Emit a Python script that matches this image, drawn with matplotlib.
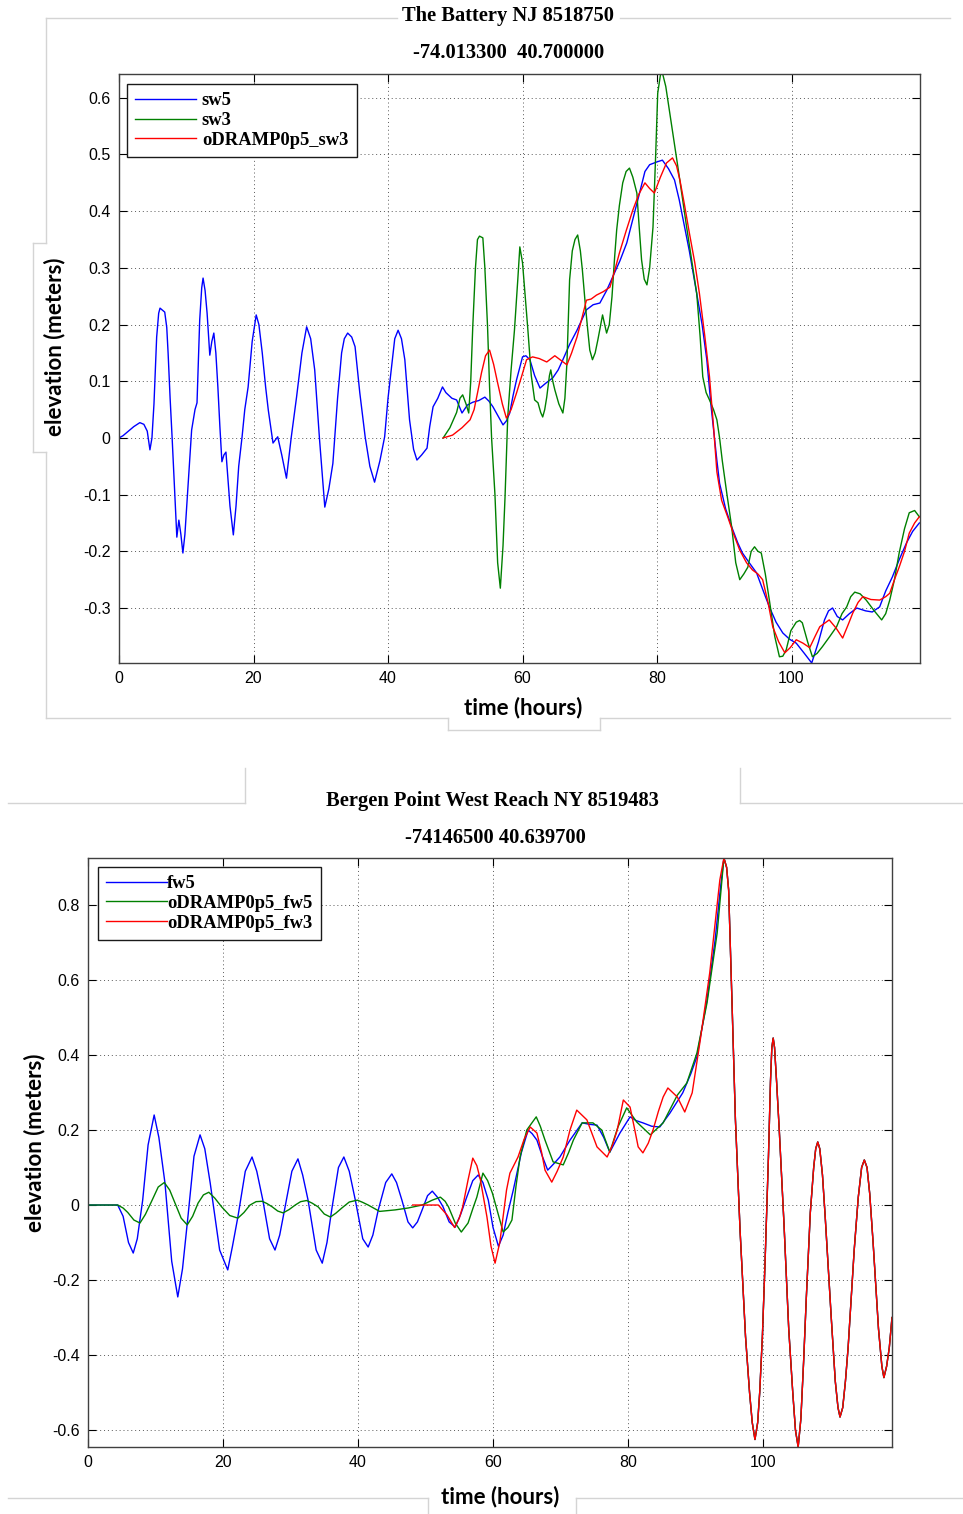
import matplotlib
matplotlib.use('Agg')
import matplotlib.pyplot as plt
from matplotlib.lines import Line2D

# ---- data (time in hours, elevation in meters) ----
# The Battery NJ 8518750
sw5_t = [0, 0.6, 1.2, 2.2, 3.1, 3.7, 4.2, 4.6, 4.9, 5.2, 5.6, 5.9, 6.1, 6.8, 7.1, 7.3,
         7.6, 7.9, 8.3, 8.6, 8.9, 9.2, 9.5, 9.8, 10.1, 10.5, 10.8, 11.3, 11.6, 12.0,
         12.3, 12.5, 12.8, 13.1, 13.5, 13.8, 14.1, 14.4, 14.7, 15.0, 15.3, 15.6, 15.9,
         16.5, 17.0, 17.4, 17.8, 18.3, 18.7, 19.2, 19.8, 20.4, 20.8, 21.3, 21.8, 22.2,
         22.9, 23.6, 24.2, 24.9, 25.6, 26.4, 27.2, 27.9, 28.5, 29.1, 29.8, 30.6, 31.2,
         31.8, 32.5, 33.1, 33.5, 34.0, 34.6, 35.1, 35.8, 36.6, 37.3, 38.0, 38.8, 39.5,
         40.0, 40.6, 41.0, 41.5, 42.0, 42.5, 43.2, 43.8, 44.3, 45.0, 45.8, 46.2, 46.7,
         47.4, 48.1, 48.6, 49.5, 50.2, 51.0, 51.8, 52.6, 53.5, 54.4, 55.0, 55.6, 56.4,
         57.1, 57.6, 58.1, 58.6, 59.1, 60.0, 60.5, 61.1, 61.8, 62.6, 63.5, 64.5, 65.3,
         66.0, 67.0, 68.1, 69.5, 70.5, 71.5, 72.5, 73.4, 74.5, 75.5, 76.5, 77.4, 78.2,
         78.9, 80.0, 80.8, 81.7, 82.6, 83.3, 83.8, 84.8, 85.9, 86.7, 87.4, 88.0, 88.9,
         89.3, 90.2, 91.1, 92.0, 92.7, 93.7, 94.8, 95.8, 96.7, 97.7, 98.7, 99.7, 100.7,
         101.9, 103.0, 104.0, 104.9, 105.5, 106.1, 106.8, 107.6, 108.6, 109.7, 111.0,
         112.0, 113.1, 114.0, 115.0, 116.0, 117.1, 118.0, 119.0]
sw5_y = [0, 0.004, 0.01, 0.02, 0.027, 0.024, 0.012, -0.021, 0.0, 0.06, 0.178, 0.22,
         0.229, 0.222, 0.195, 0.15, 0.07, 0.0, -0.1, -0.175, -0.145, -0.17, -0.203, -0.17,
         -0.115, -0.04, 0.014, 0.05, 0.062, 0.208, 0.265, 0.282, 0.26, 0.22, 0.146, 0.17,
         0.185, 0.15, 0.09, 0.02, -0.042, -0.03, -0.025, -0.12, -0.171, -0.12, -0.05,
         0.002, 0.05, 0.09, 0.17, 0.217, 0.2, 0.15, 0.09, 0.049, -0.009, 0.002, -0.03,
         -0.071, 0.0, 0.072, 0.15, 0.196, 0.175, 0.12, 0.0, -0.122, -0.09, -0.045, 0.07,
         0.15, 0.175, 0.185, 0.178, 0.161, 0.08, 0.002, -0.05, -0.078, -0.04, 0.002, 0.07,
         0.132, 0.175, 0.19, 0.175, 0.138, 0.032, -0.02, -0.039, -0.03, -0.018, 0.02,
         0.055, 0.07, 0.09, 0.08, 0.07, 0.067, 0.044, 0.058, 0.063, 0.066, 0.072, 0.065,
         0.055, 0.038, 0.023, 0.03, 0.044, 0.075, 0.102, 0.143, 0.145, 0.138, 0.11, 0.088,
         0.097, 0.106, 0.12, 0.138, 0.165, 0.19, 0.226, 0.235, 0.238, 0.26, 0.284, 0.313,
         0.344, 0.39, 0.432, 0.47, 0.482, 0.487, 0.49, 0.475, 0.455, 0.42, 0.39, 0.33,
         0.255, 0.2, 0.138, 0.06, -0.04, -0.08, -0.125, -0.157, -0.185, -0.203, -0.22,
         -0.238, -0.27, -0.298, -0.325, -0.344, -0.355, -0.362, -0.38, -0.397, -0.36,
         -0.321, -0.305, -0.3, -0.315, -0.321, -0.31, -0.3, -0.305, -0.307, -0.298, -0.27,
         -0.245, -0.215, -0.185, -0.165, -0.15]

sw3_t = [48.2, 49.2, 50.2, 50.7, 51.1, 51.6, 52.0, 52.3, 52.6, 53.0, 53.3, 53.6, 54.1,
         54.4, 54.8, 55.1, 55.4, 55.9, 56.3, 56.7, 57.1, 57.4, 57.8, 58.3, 58.8, 59.3,
         59.6, 60.0, 60.4, 60.8, 61.3, 61.8, 62.3, 62.7, 63.0, 63.3, 63.6, 64.0, 64.2,
         64.5, 64.8, 65.4, 66.0, 66.3, 66.6, 67.0, 67.4, 67.8, 68.2, 68.6, 68.9, 69.3,
         69.7, 70.0, 70.4, 70.8, 71.2, 71.9, 72.5, 72.9, 73.3, 73.7, 74.0, 74.4, 74.9,
         75.4, 75.9, 76.4, 77.0, 77.3, 77.7, 78.1, 78.5, 78.9, 79.4, 79.8, 80.1, 80.5,
         80.8, 81.3, 81.8, 82.2, 83.1, 84.4, 85.2, 85.9, 86.4, 86.8, 87.3, 87.8, 88.4,
         88.9, 89.3, 89.7, 90.4, 91.1, 91.7, 92.3, 92.9, 93.5, 94.0, 94.5, 95.0, 95.5,
         96.1, 96.7, 97.5, 98.2, 98.7, 99.2, 99.9, 100.7, 101.2, 101.6, 102.4, 103.1,
         103.8, 104.6, 105.7, 106.7, 107.5, 108.2, 108.8, 109.4, 110.2, 111.1, 112.3,
         113.4, 114.0, 114.6, 115.3, 116.0, 116.8, 117.5, 118.3, 119.0]
sw3_y = [0, 0.018, 0.045, 0.07, 0.076, 0.06, 0.044, 0.1, 0.196, 0.3, 0.35, 0.356, 0.353,
         0.3, 0.196, 0.09, 0.0, -0.1, -0.22, -0.265, -0.19, -0.104, 0.037, 0.12, 0.19,
         0.28, 0.337, 0.309, 0.25, 0.19, 0.11, 0.067, 0.062, 0.045, 0.037, 0.05, 0.072,
         0.11, 0.12, 0.1, 0.085, 0.06, 0.044, 0.07, 0.132, 0.279, 0.33, 0.35, 0.358, 0.33,
         0.296, 0.24, 0.19, 0.155, 0.138, 0.15, 0.173, 0.217, 0.185, 0.2, 0.249, 0.32,
         0.367, 0.41, 0.45, 0.47, 0.476, 0.46, 0.432, 0.38, 0.314, 0.28, 0.27, 0.3, 0.372,
         0.5, 0.608, 0.64, 0.644, 0.62, 0.58, 0.549, 0.478, 0.372, 0.31, 0.255, 0.18,
         0.108, 0.08, 0.067, 0.05, 0.032, 0.0, -0.04, -0.1, -0.157, -0.22, -0.25, -0.24,
         -0.228, -0.2, -0.192, -0.2, -0.203, -0.24, -0.286, -0.35, -0.386, -0.385, -0.374,
         -0.34, -0.325, -0.322, -0.326, -0.36, -0.386, -0.38, -0.368, -0.35, -0.333,
         -0.31, -0.298, -0.28, -0.272, -0.275, -0.286, -0.305, -0.321, -0.31, -0.286,
         -0.25, -0.203, -0.16, -0.132, -0.128, -0.139]

ramp_sw3_t = [48.2, 49.6, 51.0, 52.2, 52.8, 53.3, 53.9, 54.5, 55.1, 55.7, 56.3, 57.0,
              57.6, 58.3, 59.1, 59.9, 60.6, 61.5, 62.5, 63.6, 64.8, 65.7, 66.6, 67.3,
              68.1, 68.8, 69.5, 70.2, 71.0, 72.0, 73.0, 73.7, 74.4, 75.4, 76.4, 77.3,
              78.2, 78.9, 79.6, 80.5, 81.4, 82.3, 82.9, 83.4, 84.1, 84.8, 85.6, 86.3,
              87.1, 87.8, 88.4, 88.9, 89.6, 90.5, 91.4, 92.3, 93.3, 94.2, 95.0, 95.7,
              96.5, 97.2, 98.1, 99.0, 99.8, 100.7, 101.7, 102.7, 103.5, 104.2, 105.6,
              106.6, 107.6, 108.4, 109.1, 109.9, 110.6, 111.8, 113.1, 114.0, 114.6,
              115.3, 116.0, 116.8, 117.5, 118.3, 119.0]
ramp_sw3_y = [0, 0.005, 0.018, 0.032, 0.05, 0.079, 0.115, 0.145, 0.155, 0.13, 0.097,
              0.06, 0.035, 0.05, 0.079, 0.11, 0.138, 0.143, 0.14, 0.134, 0.145, 0.137,
              0.129, 0.15, 0.178, 0.21, 0.243, 0.245, 0.252, 0.258, 0.266, 0.295, 0.326,
              0.365, 0.402, 0.43, 0.45, 0.44, 0.432, 0.46, 0.485, 0.494, 0.48, 0.455,
              0.41, 0.362, 0.31, 0.255, 0.18, 0.108, 0.02, -0.06, -0.11, -0.139, -0.17,
              -0.198, -0.22, -0.233, -0.24, -0.25, -0.29, -0.333, -0.36, -0.379, -0.37,
              -0.356, -0.362, -0.37, -0.35, -0.333, -0.321, -0.335, -0.353, -0.33, -0.309,
              -0.29, -0.28, -0.285, -0.286, -0.28, -0.274, -0.25, -0.228, -0.2, -0.168,
              -0.15, -0.139]

# Bergen Point West Reach NY 8519483
# all three runs coincide after the surge peak
tail_t = [94.6, 94.9, 95.4, 95.9, 96.6, 97.4, 98.0, 98.4, 98.8, 99.2, 99.5, 99.9, 100.3,
          100.8, 101.1, 101.3, 101.5, 101.7, 102.0, 102.4, 103.1, 103.8, 104.4, 104.8,
          105.2, 105.6, 106.0, 106.4, 107.0, 107.5, 107.8, 108.1, 108.4, 108.8, 109.2,
          110.1, 110.7, 111.1, 111.4, 111.8, 112.2, 112.6, 113.5, 114.1, 114.6, 115.0,
          115.4, 115.8, 116.3, 117.1, 117.6, 117.9, 118.3, 118.7, 119.1]
tail_y = [0.9, 0.84, 0.54, 0.23, -0.07, -0.35, -0.5, -0.58, -0.625, -0.58, -0.5, -0.35,
          -0.15, 0.13, 0.33, 0.42, 0.445, 0.42, 0.33, 0.2, -0.05, -0.33, -0.5, -0.6,
          -0.645, -0.57, -0.42, -0.25, -0.02, 0.1, 0.15, 0.168, 0.15, 0.08, -0.03, -0.3,
          -0.47, -0.54, -0.565, -0.54, -0.47, -0.38, -0.12, 0.02, 0.1, 0.12, 0.1, 0.03,
          -0.1, -0.33, -0.43, -0.46, -0.43, -0.38, -0.3]

fw5_t = [0, 4.4, 5.2, 6.0, 6.7, 7.3, 8.1, 8.9, 9.8, 10.5, 11.4, 12.4, 13.3, 14.0, 14.8,
         15.7, 16.6, 17.3, 18.1, 19.5, 20.7, 21.4, 22.2, 23.3, 24.3, 25.0, 25.9, 26.9,
         27.7, 28.4, 29.2, 30.2, 31.1, 31.8, 32.6, 33.8, 34.7, 35.4, 36.1, 37.1, 37.9,
         38.7, 39.6, 40.7, 41.5, 42.2, 43.0, 44.1, 45.0, 45.7, 46.5, 47.4, 48.1, 48.8,
         49.5, 50.3, 51.0, 51.8, 52.6, 53.5, 54.4, 55.2, 56.1, 57.0, 57.8, 58.5, 59.3,
         60.0, 60.8, 61.5, 62.2, 63.0, 64.2, 65.2, 65.8, 66.5, 67.3, 68.1, 69.0, 69.9,
         71.4, 73.2, 74.3, 75.4, 76.4, 77.3, 78.0, 78.8, 80.3, 81.2, 82.2, 83.5, 84.7,
         86.2, 88.1, 89.3, 90.2, 91.7, 92.9, 93.6, 94.2] + tail_t
fw5_y = [0, 0, -0.03, -0.1, -0.128, -0.09, 0.013, 0.16, 0.24, 0.18, 0.059, -0.15, -0.245,
         -0.17, -0.032, 0.13, 0.187, 0.15, 0.059, -0.12, -0.173, -0.11, -0.032, 0.09,
         0.128, 0.09, 0.013, -0.09, -0.12, -0.08, -0.005, 0.09, 0.123, 0.08, 0.013, -0.12,
         -0.155, -0.1, -0.013, 0.1, 0.128, 0.09, 0.013, -0.09, -0.112, -0.08, -0.013,
         0.06, 0.083, 0.06, 0.013, -0.045, -0.061, -0.045, -0.013, 0.025, 0.037, 0.02,
         -0.005, -0.045, -0.059, -0.025, 0.021, 0.065, 0.08, 0.06, 0.013, -0.06, -0.11,
         -0.08, -0.02, 0.04, 0.14, 0.2, 0.19, 0.173, 0.13, 0.093, 0.11, 0.128, 0.173,
         0.219, 0.215, 0.213, 0.18, 0.141, 0.165, 0.192, 0.235, 0.225, 0.219, 0.21, 0.208,
         0.245, 0.299, 0.35, 0.395, 0.547, 0.707, 0.83, 0.925] + tail_y

ramp_fw5_t = [0, 4.4, 5.2, 5.9, 6.8, 7.7, 8.5, 9.5, 10.4, 11.3, 12.1, 12.9, 13.8, 14.7,
              15.5, 16.3, 17.1, 17.9, 18.8, 19.8, 21.0, 22.2, 23.1, 24.0, 24.9, 25.8,
              26.5, 27.3, 28.1, 28.9, 29.8, 30.7, 31.5, 32.4, 33.2, 34.1, 35.0, 35.9,
              36.7, 37.6, 38.7, 39.9, 40.7, 41.5, 43.2, 45.5, 47.4, 49.5, 51.0, 52.2,
              52.9, 53.4, 54.4, 55.3, 56.3, 57.0, 57.6, 58.5, 59.2, 59.9, 60.7, 61.5,
              62.2, 62.8, 63.4, 64.0, 65.0, 66.4, 67.0, 67.7, 68.9, 70.4, 71.2, 71.9,
              73.2, 74.8, 76.1, 77.3, 78.5, 79.8, 81.3, 83.3, 85.2, 87.3, 88.7, 90.2,
              91.7, 93.2, 94.2] + tail_t
ramp_fw5_y = [0, 0, -0.008, -0.02, -0.04, -0.048, -0.025, 0.013, 0.048, 0.06, 0.04, 0.005,
              -0.035, -0.053, -0.03, 0.005, 0.027, 0.034, 0.018, -0.005, -0.028, -0.035,
              -0.02, 0.0, 0.009, 0.01, 0.004, -0.005, -0.016, -0.021, -0.012, 0.0, 0.009,
              0.012, 0.005, -0.005, -0.024, -0.032, -0.022, -0.008, 0.008, 0.013, 0.007,
              0.0, -0.017, -0.013, -0.008, 0.0, 0.013, 0.021, 0.01, -0.005, -0.048, -0.072,
              -0.048, -0.01, 0.021, 0.085, 0.065, 0.032, -0.02, -0.072, -0.06, -0.04,
              0.05, 0.128, 0.2, 0.235, 0.21, 0.173, 0.115, 0.107, 0.14, 0.173, 0.219,
              0.219, 0.2, 0.141, 0.208, 0.259, 0.221, 0.187, 0.219, 0.293, 0.325, 0.405,
              0.539, 0.725, 0.925] + tail_y

ramp_fw3_t = [48.1, 51.9, 53.2, 54.3, 55.0, 55.5, 56.3, 57.0, 57.6, 58.1, 59.1, 59.7,
              60.3, 61.0, 62.0, 62.5, 63.7, 64.6, 65.5, 66.5, 67.2, 67.7, 68.7, 69.5,
              70.4, 71.4, 72.4, 73.9, 75.4, 76.9, 77.7, 78.4, 79.3, 80.3, 81.0, 81.5,
              82.2, 83.0, 83.7, 84.5, 85.2, 85.9, 87.3, 88.4, 89.5, 90.7, 92.1, 93.6,
              94.2] + tail_t
ramp_fw3_y = [0, 0, -0.027, -0.06, -0.035, -0.005, 0.067, 0.125, 0.105, 0.07, -0.032,
              -0.11, -0.155, -0.1, 0.04, 0.085, 0.128, 0.175, 0.208, 0.192, 0.14, 0.093,
              0.061, 0.09, 0.128, 0.2, 0.253, 0.227, 0.155, 0.128, 0.16, 0.2, 0.28, 0.261,
              0.2, 0.155, 0.139, 0.165, 0.2, 0.25, 0.288, 0.312, 0.288, 0.248, 0.299, 0.44,
              0.619, 0.867, 0.925] + tail_y

hour_ticks = [0, 20, 40, 60, 80, 100]
top_yticks = [-0.3, -0.2, -0.1, 0, 0.1, 0.2, 0.3, 0.4, 0.5, 0.6]
bot_yticks = [-0.6, -0.4, -0.2, 0, 0.2, 0.4, 0.6, 0.8]

BLUE, GREEN, RED = '#0000ff', '#008000', '#ff0000'
W, H = 963, 1514

fig = plt.figure(figsize=(9.63, 15.14), dpi=100)


def box(l, t, r, b):
    return [l / W, 1 - b / H, (r - l) / W, (b - t) / H]


def style(ax, ylim, yticks):
    ax.set_xlim(0, 119.1)
    ax.set_ylim(*ylim)
    ax.set_xticks(hour_ticks)
    ax.set_xticklabels([str(v) for v in hour_ticks], family='Liberation Sans')
    ax.set_yticks(yticks)
    ax.set_yticklabels(['%g' % v for v in yticks], family='Liberation Sans')
    ax.tick_params(direction='in', top=True, right=True, length=6, width=0.8,
                   labelsize=11.5, pad=6)
    ax.grid(True, linestyle=(0, (1, 3)), color='0.35', lw=0.7)
    for s in ax.spines.values():
        s.set_linewidth(1.0)
        s.set_color('0.25')


legend_font = {'family': 'Liberation Serif', 'weight': 'bold', 'size': 13.3}
legend_kw = dict(loc='upper left', borderaxespad=0, prop=legend_font, fancybox=False,
                 edgecolor='0.1', framealpha=1, labelspacing=0.15, borderpad=0.45)

# top panel
ax1 = fig.add_axes(box(119, 74, 920, 663))
ax1.plot(sw5_t, sw5_y, color=BLUE, lw=1.0, label='sw5')
ax1.plot(sw3_t, sw3_y, color=GREEN, lw=1.0, label='sw3')
ax1.plot(ramp_sw3_t, ramp_sw3_y, color=RED, lw=1.0, label='oDRAMP0p5_sw3')
style(ax1, (-0.397, 0.642), top_yticks)
leg = ax1.legend(bbox_to_anchor=(0.01, 0.983), handlelength=3.3, handletextpad=0.3,
                 **legend_kw)
leg.get_frame().set_linewidth(1.0)

# bottom panel
ax2 = fig.add_axes(box(88, 858, 892, 1447))
ax2.plot(fw5_t, fw5_y, color=BLUE, lw=1.0, label='fw5')
ax2.plot(ramp_fw5_t, ramp_fw5_y, color=GREEN, lw=1.0, label='oDRAMP0p5_fw5')
ax2.plot(ramp_fw3_t, ramp_fw3_y, color=RED, lw=1.0, label='oDRAMP0p5_fw3')
style(ax2, (-0.645, 0.925), bot_yticks)
leg = ax2.legend(bbox_to_anchor=(0.0124, 0.985), handlelength=3.3, handletextpad=0.0,
                 **legend_kw)
leg.get_frame().set_linewidth(1.0)


def ftext(px, py, s, **kw):
    fig.text(px / W, 1 - py / H, s, ha='center', va='center', **kw)


title_kw = dict(family='Liberation Serif', weight='bold', fontsize=14.8)
label_kw = dict(family='Lato', weight='bold', fontsize=16)

ftext(508, 16, 'The Battery NJ 8518750', **title_kw)
ftext(509, 53, '-74.013300  40.700000', **title_kw)
ftext(55, 347, 'elevation (meters)', rotation=90, **label_kw)
ftext(523, 708, 'time (hours)', **label_kw)

ftext(492, 801, 'Bergen Point West Reach NY 8519483', **title_kw)
ftext(495, 838, '-74146500 40.639700', **title_kw)
ftext(35, 1143, 'elevation (meters)', rotation=90, **label_kw)
ftext(500, 1497, 'time (hours)', **label_kw)

# faint frame lines left over from the pasted screenshots
frame = [
    ([46, 397], [18, 18]), ([620, 950], [18, 18]),
    ([46, 46], [18, 243]), ([33, 46], [243, 243]), ([33, 33], [243, 452]),
    ([33, 46], [452, 452]), ([46, 46], [452, 718]),
    ([46, 448], [718, 718]), ([448, 448], [718, 730]), ([448, 600], [730, 730]),
    ([600, 600], [718, 730]), ([600, 950], [718, 718]),
    ([8, 245], [803, 803]), ([245, 245], [768, 803]),
    ([740, 740], [768, 803]), ([740, 963], [803, 803]),
    ([8, 428], [1498, 1498]), ([428, 428], [1498, 1514]),
    ([576, 576], [1498, 1514]), ([576, 963], [1498, 1498]),
]
for xs, ys in frame:
    fig.add_artist(Line2D([x / W for x in xs], [1 - y / H for y in ys],
                          transform=fig.transFigure, color='#d4d4d4', lw=1.0))

fig.savefig('out.png', dpi=100)
